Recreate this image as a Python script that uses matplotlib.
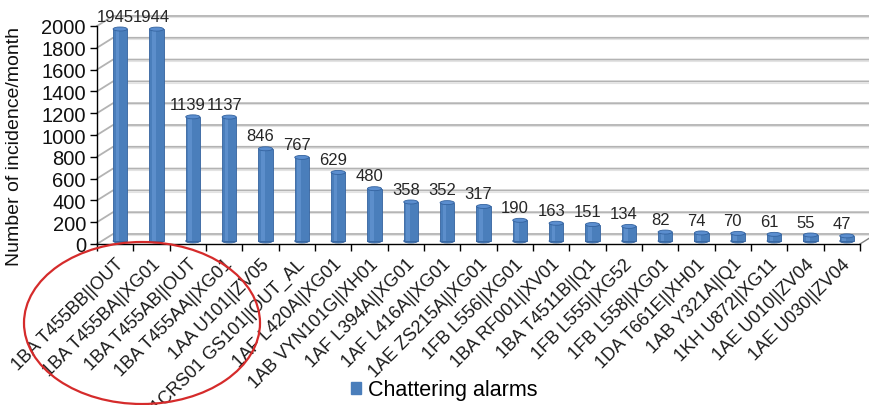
import matplotlib
matplotlib.use("Agg")
import matplotlib.pyplot as plt
from matplotlib import transforms
from matplotlib.patches import Ellipse, Patch
import numpy as np

plt.rcParams['font.family'] = ['Liberation Sans', 'DejaVu Sans']

categories = [
    "1BA T455BB||OUT", "1BA T455BA||XG01", "1BA T455AB||OUT", "1BA T455AA||XG01",
    "1AA U101||ZV05", "1CRS01 GS101||OUT_AL", "1AF L420A||XG01", "1AB VYN101G||XH01",
    "1AF L394A||XG01", "1AF L416A||XG01", "1AE ZS215A||XG01", "1FB L556||XG01",
    "1BA RF001||XV01", "1BA T4511B||Q1", "1FB L555||XG52", "1FB L558||XG01",
    "1DA T661E||XH01", "1AB Y321A||Q1", "1KH U872||XG11", "1AE U010||ZV04",
    "1AE U030||ZV04",
]
values = [1945, 1944, 1139, 1137, 846, 767, 629, 480, 358, 352, 317,
          190, 163, 151, 134, 82, 74, 70, 61, 55, 47]
y_ticks = list(range(0, 2001, 200))
series_name = "Chattering alarms"

BAR = '#4a7ebb'
EDGE = '#34639f'
GRID = '#b3b3b3'

W, H = 869, 406
fig = plt.figure(figsize=(W / 100, H / 100), dpi=100)
fig.patch.set_facecolor('white')

# plot frame in pixels: front floor edge and top of value axis
px0, px1, py0, py1 = 97, 860, 245, 27
ax = fig.add_axes([px0 / W, 1 - py0 / H, (px1 - px0) / W, (py0 - py1) / H])
n = len(values)
ax.set_xlim(0, n)
ax.set_ylim(0, 2000)

# depth of the pseudo-3D walls, converted to data units
px_per_cat = (px1 - px0) / n
px_per_val = (py0 - py1) / 2000
dx = 16 / px_per_cat
dy = 10 / px_per_val

for v in y_ticks:
    ax.plot([0, dx, n + dx], [v, v + dy, v + dy], color=GRID, lw=1.3,
            clip_on=False, zorder=0)
    ax.plot([dx, n + dx], [v + dy - 1.2 / px_per_val] * 2, color='#e3e3e3',
            lw=0.8, clip_on=False, zorder=0)
ax.plot([n, n + dx], [0, dy], color='#808080', lw=1.0, clip_on=False, zorder=0)

# cylinders sit slightly behind the front edge
bar_tr = transforms.offset_copy(ax.transData, fig=fig, x=5, y=3, units='dots')
xc = np.arange(n) + 0.5
bw = 0.39
cap_h = 4 / px_per_val

for x, v in zip(xc, values):
    bottom = Ellipse((x, 0), bw, cap_h, facecolor=BAR, edgecolor=EDGE, lw=0.6,
                     transform=bar_tr, zorder=2)
    ax.add_patch(bottom)
bars = ax.bar(xc, values, width=bw, color=BAR, edgecolor=EDGE, linewidth=0.6,
              zorder=3)
for b in bars:
    b.set_transform(bar_tr)
shine = ax.bar(xc - 0.07, values, width=0.1, color='#6e9fdc', alpha=0.5,
               linewidth=0, zorder=4)
for b in shine:
    b.set_transform(bar_tr)
for x, v in zip(xc, values):
    cap = Ellipse((x, v), bw, cap_h, facecolor='#5b8ecf', edgecolor=EDGE, lw=0.6,
                  transform=bar_tr, zorder=5)
    ax.add_patch(cap)

for x, v in zip(xc, values):
    ax.annotate(str(v), (x, v), xytext=(0, 6), textcoords='offset points',
                ha='center', va='bottom', fontsize=12, color='#262626',
                zorder=6)

# axes styling
for s in ('top', 'right'):
    ax.spines[s].set_visible(False)
for s in ('left', 'bottom'):
    ax.spines[s].set_color('black')
    ax.spines[s].set_linewidth(1.0)
ax.set_facecolor('none')

ax.set_yticks(y_ticks)
ax.set_yticklabels([str(t) for t in y_ticks], fontsize=14.5, color='#111111')
ax.tick_params(axis='y', direction='out', length=5, width=1, pad=3)

ax.set_xticks(np.arange(n + 1))
ax.set_xticklabels([])
ax.tick_params(axis='x', which='major', direction='out', length=5, width=1)
ax.set_xticks(xc, minor=True)
ax.set_xticklabels(categories, minor=True, rotation=45, ha='right',
                   rotation_mode='anchor', fontsize=13, color='#1a1a1a')
ax.tick_params(axis='x', which='minor', length=0, pad=8)

fig.text(15 / W, 1 - 146 / H, "Number of incidence/month", rotation=90,
         ha='center', va='center', fontsize=14, color='#111111')

ax.legend(handles=[Patch(facecolor=BAR, edgecolor=BAR)], labels=[series_name],
          loc='center', bbox_to_anchor=(444 / W, 1 - 391 / H),
          bbox_transform=fig.transFigure, frameon=False, fontsize=15.5,
          handlelength=0.5, handleheight=0.5, handletextpad=0.3)

# highlight around the first group of tags
ring = Ellipse((142 / W, 1 - 324 / H), 236 / W, 162 / H, transform=fig.transFigure,
               facecolor='none', edgecolor='#d52b2b', lw=1.6, zorder=10)
fig.patches.append(ring)

fig.savefig('out.png', dpi=100, facecolor='white')
